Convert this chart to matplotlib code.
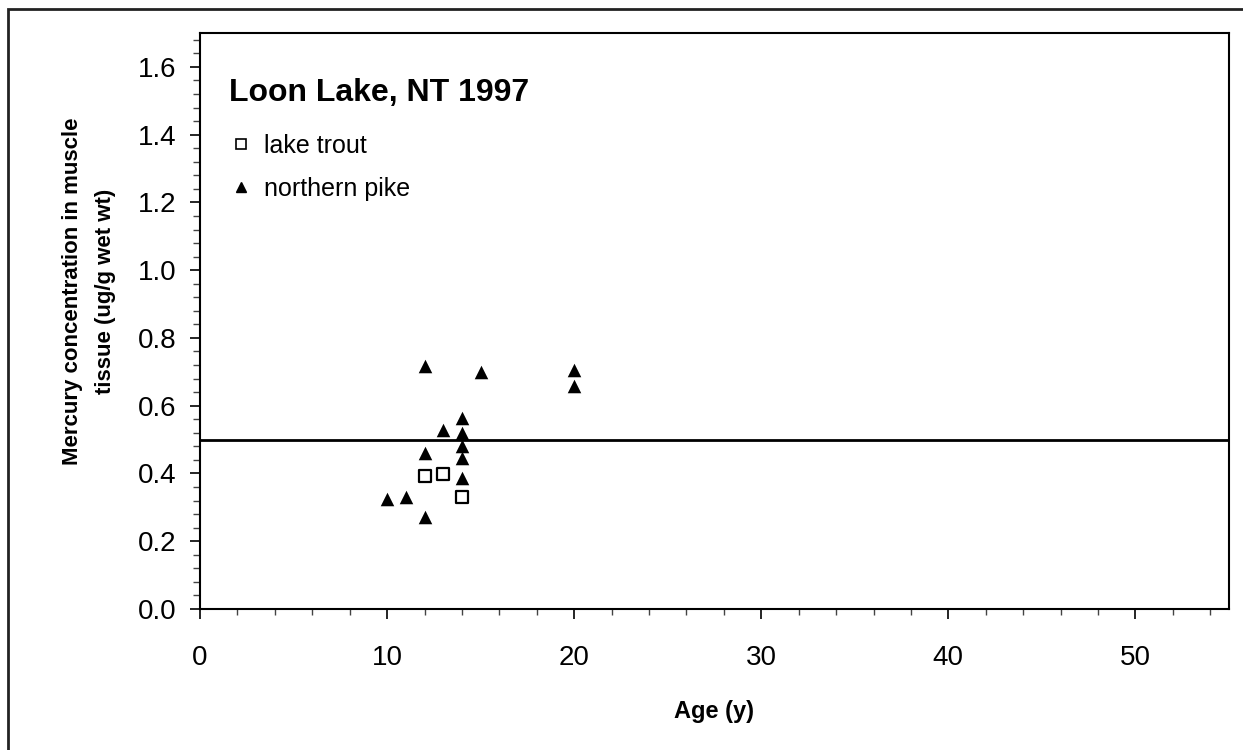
import numpy as np
import matplotlib
matplotlib.use("Agg")
import matplotlib.pyplot as plt
from matplotlib.patches import Rectangle
from matplotlib.lines import Line2D

plt.rcParams["font.family"] = ["Liberation Sans", "DejaVu Sans"]

# lake trout (age in years, Hg in ug/g wet wt)
trout_age = [12, 13, 14]
trout_hg = [0.393, 0.399, 0.332]

# northern pike
pike_age = [10, 11, 12, 12, 12, 13, 14, 14, 14, 14, 14, 15, 20, 20]
pike_hg = [0.325, 0.330, 0.273, 0.461, 0.717, 0.527, 0.386, 0.445, 0.480,
           0.520, 0.563, 0.699, 0.705, 0.658]

guideline = 0.5

W, H = 1243, 750
fig = plt.figure(figsize=(W / 100, H / 100), dpi=100)

# outer frame around the chart area
fig.add_artist(Rectangle((8 / W, -0.1), 1.2, 1.1 - 9 / H,
                         transform=fig.transFigure, fill=False,
                         edgecolor="#222222", linewidth=2.0))

ax = fig.add_axes([200 / W, (H - 609) / H, 1029 / W, 576 / H])

ax.scatter(pike_age, pike_hg, marker="^", s=95, color="black",
           linewidths=0, zorder=3)
ax.scatter(trout_age, trout_hg, marker="s", s=78, facecolors="white",
           edgecolors="black", linewidths=1.6, zorder=3)
ax.axhline(guideline, color="black", linewidth=2.0, zorder=2)

ax.set_xlim(0, 55)
ax.set_ylim(0, 1.7)
ax.set_xticks(np.arange(0, 51, 10))
ax.set_xticks(np.arange(0, 55.1, 2), minor=True)
ax.set_yticks(np.arange(0, 1.61, 0.2))
ax.set_yticks(np.arange(0, 1.7, 0.04), minor=True)
ax.set_yticklabels([f"{v:.1f}" for v in np.arange(0, 1.61, 0.2)])

ax.tick_params(axis="both", which="major", direction="out", length=7,
               width=1.2, labelsize=20, color="black")
ax.tick_params(axis="x", which="minor", direction="out", length=4.5,
               width=1.0, color="#444444")
ax.tick_params(axis="y", which="minor", direction="out", length=5,
               width=1.0, color="#444444")
ax.tick_params(axis="x", which="major", pad=19)
ax.tick_params(axis="y", which="major", pad=10)
for sp in ax.spines.values():
    sp.set_linewidth(1.5)

ax.set_xlabel("Age (y)", fontsize=17, fontweight="bold", labelpad=21)
fig.text(73 / W, 1 - 291 / H, "Mercury concentration in muscle",
         rotation=90, ha="center", va="center", fontsize=16,
         fontweight="bold")
fig.text(105 / W, 1 - 291 / H, "tissue (ug/g wet wt)",
         rotation=90, ha="center", va="center", fontsize=16,
         fontweight="bold")

ax.text(229 / W, 1 - 93 / H, "Loon Lake, NT 1997", transform=fig.transFigure,
        fontsize=23, fontweight="bold", va="center", ha="left")

handles = [
    Line2D([], [], marker="s", linestyle="none", markersize=6.5,
           markerfacecolor="white", markeredgecolor="black",
           markeredgewidth=1.2),
    Line2D([], [], marker="^", linestyle="none", markersize=7.5,
           color="black"),
]
fig.legend(handles, ["lake trout", "northern pike"],
           loc="upper left", bbox_to_anchor=(223 / W, 1 - 124 / H),
           frameon=False, fontsize=18, handlelength=0.6,
           handletextpad=0.65, labelspacing=0.75, borderaxespad=0)

fig.savefig("out.png", dpi=100)
